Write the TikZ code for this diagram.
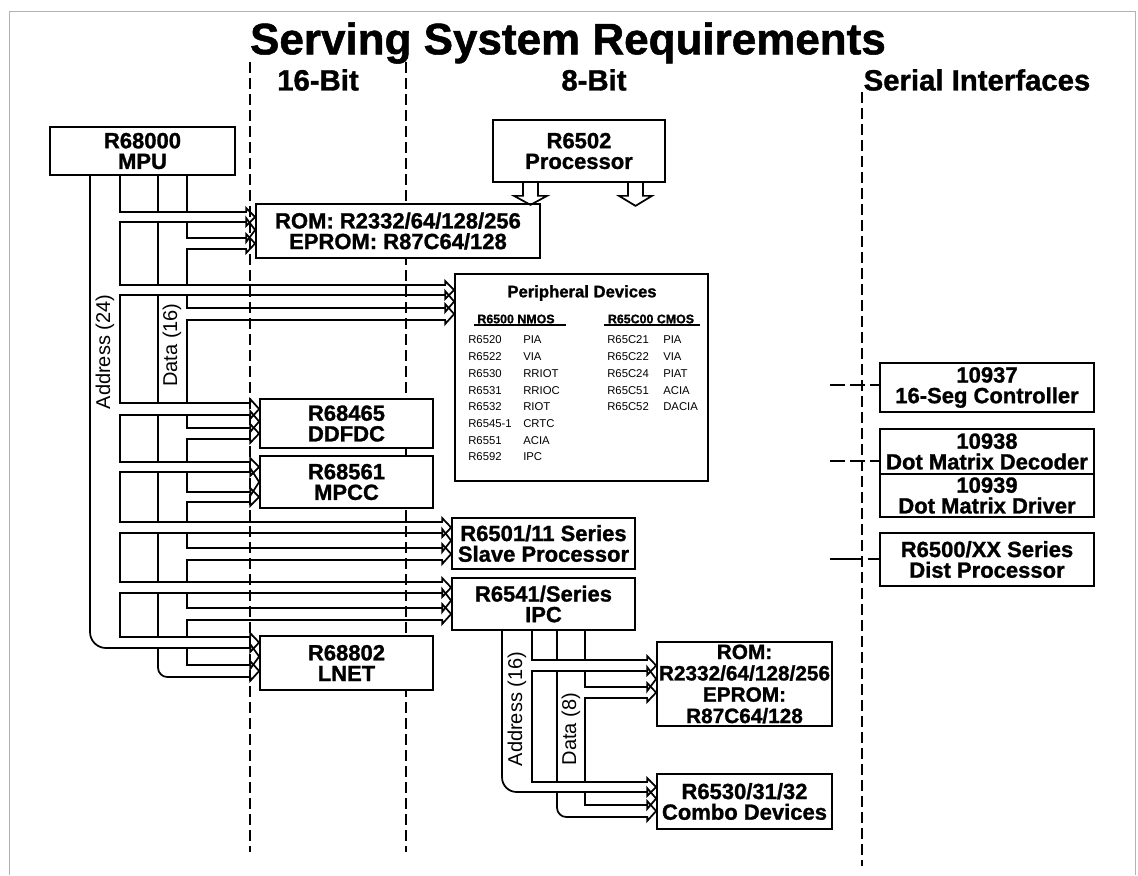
\documentclass[tikz,border=0pt]{standalone}
\usepackage{fontspec}
\setmainfont{Liberation Sans}[BoldFeatures={FakeBold=1.2}]
\usetikzlibrary{calc}

\tikzset{
  box/.style={draw, fill=white, line width=1.3pt, inner sep=0pt, align=center,
    font=\bfseries\fontsize{16.5}{15.5}\selectfont},
  sized/.style 2 args={minimum width=#1*0.75pt, minimum height=#2*0.75pt},
  bus/.style={line width=1.3pt, line cap=rect},
  divider/.style={line width=1.1pt, dash pattern=on 8pt off 4pt},
  serial/.style={line width=1.1pt, dash pattern=on 11.25pt off 3.75pt},
  buslabel/.style={rotate=90, inner sep=0pt, font=\fontsize{15}{15}\selectfont},
  cell/.style={anchor=west, inner sep=0pt, font=\fontsize{8.5}{8.5}\selectfont},
  colhead/.style={inner sep=1pt, font=\bfseries\fontsize{9.3}{9.3}\selectfont},
  header/.style={font=\bfseries\fontsize{22}{22}\selectfont},
}

% hollow head of one bus band, tip on the west side of #1
\newcommand\bushead[3]{%
  \draw[bus, line cap=butt] ($(#1.west |- 0,#2)+(-9,0)$) -- ++(0,-4)
    -- ($(#1.west |- 0,{(#2+#3)/2})$)
    -- ($(#1.west |- 0,#3)+(-9,4)$) -- ++(0,-4);}

\begin{document}
\begin{tikzpicture}[x=0.75pt,y=-0.75pt]
\useasboundingbox (0,0) rectangle (1138,875);
\draw[gray!60, line width=0.6pt] (9,875) -- (9,11) -- (1135,11) -- (1135,875);

% titles
\node[font=\bfseries\fontsize{33}{33}\selectfont] (ttl) at (568,43) {Serving System Requirements};
\node[header] (hd16) at (318,80) {16-Bit};
\node[header] (hd8) at (594,80) {8-Bit};
\node[header] (hdser) at (977,80) {Serial Interfaces};

% column dividers
\draw[divider] (250,62) -- (250,852);
\draw[divider] (406,62) -- (406,852);
\draw[divider] (862,92) -- (862,866);

% blocks
\node[box, sized={185}{48}] (mpu) at (142.5,151) {R68000\\MPU};
\node[box, sized={172}{62}] (cpu) at (579,151) {R6502\\Processor};
\node[box, sized={284}{54}] (rom) at (398,231) {ROM: R2332/64/128/256\\EPROM: R87C64/128};
\node[box, sized={253}{207}] (per) at (581.5,377.5) {};
\node[box, sized={173}{49}] (ddfdc) at (346.5,423.5) {R68465\\DDFDC};
\node[box, sized={173}{52}] (mpcc) at (346.5,482) {R68561\\MPCC};
\node[box, sized={173}{54}] (lnet) at (346.5,663) {R68802\\LNET};
\node[box, sized={183}{51}] (slave) at (543.5,543.5) {R6501/11 Series\\Slave Processor};
\node[box, sized={183}{52}] (ipc) at (543.5,604) {R6541/Series\\IPC};
\node[box, sized={175}{84}, font=\bfseries\fontsize{15.6}{16}\selectfont] (rom8) at (744.5,684) {ROM:\\R2332/64/128/256\\EPROM:\\R87C64/128};
\node[box, sized={175}{55}] (combo) at (744.5,801.5) {R6530/31/32\\Combo Devices};
\node[box, sized={214}{49}] (seg) at (987,387.5) {10937\\16-Seg Controller};
\node[box, sized={214}{45}] (dec) at (987,451.5) {10938\\Dot Matrix Decoder};
\node[box, sized={214}{43}] (drv) at (987,495.5) {10939\\Dot Matrix Driver};
\node[box, sized={214}{53}] (dist) at (987,559.5) {R6500/XX Series\\Dist Processor};

% peripheral device list
\node[font=\bfseries\fontsize{12.5}{12.5}\selectfont] (pertitle) at (582,293) {Peripheral Devices};
\node[colhead] (nmos) at (516,319) {R6500 NMOS};
\node[colhead] (cmos) at (651,319) {R65C00 CMOS};
\draw[line width=0.8pt] ([xshift=-1pt]nmos.south west) -- ([xshift=7pt]nmos.south east);
\draw[line width=0.8pt] ([xshift=-2pt]cmos.south west) -- ([xshift=3pt]cmos.south east);
\foreach \a/\b [count=\i from 0] in {R6520/PIA, R6522/VIA, R6530/RRIOT, R6531/RRIOC,
    R6532/RIOT, R6545-1/CRTC, R6551/ACIA, R6592/IPC} {
  \node[cell] (nm\i) at (468,{340+16.7*\i}) {\a};
  \node[cell] (nmf\i) at (523,{340+16.7*\i}) {\b};
}
\foreach \a/\b [count=\i from 0] in {R65C21/PIA, R65C22/VIA, R65C24/PIAT, R65C51/ACIA, R65C52/DACIA} {
  \node[cell] (cm\i) at (607,{340+16.7*\i}) {\a};
  \node[cell] (cmf\i) at (663,{340+16.7*\i}) {\b};
}

% R6502 outputs
\draw[bus, line cap=butt] (cpu.south -| 523,0) -- ++(0,13) -- ++(-9,0) -- ++(16.5,9) -- ++(16.5,-9) -- ++(-9,0) -- ++(0,-13);
\draw[bus, line cap=butt] (cpu.south -| 628,0) -- ++(0,13) -- ++(-9,0) -- ++(16.5,10) -- ++(16.5,-10) -- ++(-9,0) -- ++(0,-13);

% 68000 address and data buses
\foreach \t/\at/\ab/\dt/\db [remember=\ab as \pa (initially 175), remember=\db as \pd (initially 175)] in
  {rom/212/222/238/249, per/285/295/308/320, ddfdc/403/415/428/439,
   mpcc/462/472/492/502, slave/522/533/548/560, ipc/582/593/608/620} {
  \draw[bus] (120,\pa) -- (120,\at) -- ($(\t.west |- 0,\at)+(-9,0)$);
  \draw[bus] (158,\pa) -- (158,\at);
  \draw[bus] (187,\pd) -- (187,\at);
  \draw[bus] (120,\ab) -- ($(\t.west |- 0,\ab)+(-9,0)$);
  \draw[bus] (187,\ab) -- (187,\dt) -- ($(\t.west |- 0,\dt)+(-9,0)$);
  \draw[bus] (187,\db) -- ($(\t.west |- 0,\db)+(-9,0)$);
  \bushead{\t}{\at}{\ab}\bushead{\t}{\ab}{\dt}\bushead{\t}{\dt}{\db}
}
\draw[bus] (120,593) -- (120,637) -- ($(lnet.west |- 0,637)+(-9,0)$);
\draw[bus] (158,593) -- (158,637);
\draw[bus] (187,620) -- (187,637);
\draw[bus, rounded corners=12pt] (mpu.south -| 90,0) -- (90,648) -- ($(lnet.west |- 0,648)+(-9,0)$);
\draw[bus] (187,648) -- (187,665) -- ($(lnet.west |- 0,665)+(-9,0)$);
\draw[bus, rounded corners=7pt] (158,648) -- (158,677) -- ($(lnet.west |- 0,677)+(-9,0)$);
\bushead{lnet}{637}{648}\bushead{lnet}{648}{665}\bushead{lnet}{665}{677}
\node[buslabel] (addr24) at (105,352) {Address (24)};
\node[buslabel] (data16) at (172,345) {Data (16)};

% IPC address and data buses
\draw[bus] (ipc.south -| 532,0) -- (532,660) -- ($(rom8.west |- 0,660)+(-9,0)$);
\draw[bus] (ipc.south -| 557,0) -- (557,660);
\draw[bus] (ipc.south -| 585,0) -- (585,660);
\draw[bus] ($(rom8.west |- 0,671)+(-9,0)$) -- (532,671) -- (532,782) -- ($(combo.west |- 0,782)+(-9,0)$);
\draw[bus] (585,671) -- (585,687) -- ($(rom8.west |- 0,687)+(-9,0)$);
\draw[bus] ($(rom8.west |- 0,698)+(-9,0)$) -- (585,698) -- (585,782);
\draw[bus] (557,671) -- (557,782);
\draw[bus, rounded corners=11pt] (ipc.south -| 502,0) -- (502,792) -- ($(combo.west |- 0,792)+(-9,0)$);
\draw[bus] (585,792) -- (585,805) -- ($(combo.west |- 0,805)+(-9,0)$);
\draw[bus, rounded corners=7pt] (557,792) -- (557,817) -- ($(combo.west |- 0,817)+(-9,0)$);
\bushead{rom8}{660}{671}\bushead{rom8}{671}{687}\bushead{rom8}{687}{698}
\bushead{combo}{782}{792}\bushead{combo}{792}{805}\bushead{combo}{805}{817}
\node[buslabel] (addr16) at (517,709) {Address (16)};
\node[buslabel] (data8) at (571,729) {Data (8)};

% serial links
\coordinate (s1) at (830,385);
\coordinate (s2) at (830,461);
\coordinate (s3) at (830,559);
\draw[serial] (s1) -- (s1 -| seg.west);
\draw[serial] (s2) -- (s2 -| dec.west);
\draw[line width=1.1pt, dash pattern=on 24pt off 4.5pt] (s3) -- (s3 -| dist.west);
\end{tikzpicture}
\end{document}
